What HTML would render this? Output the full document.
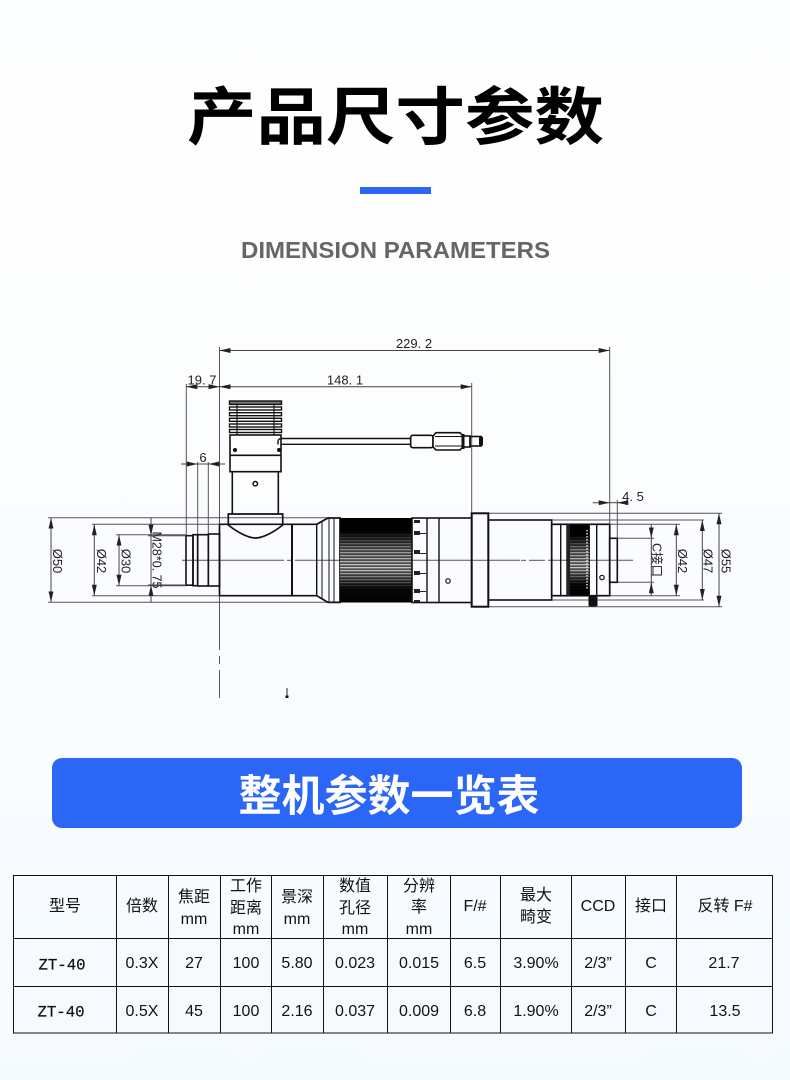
<!DOCTYPE html>
<html><head><meta charset="utf-8"><style>
html,body{margin:0;padding:0;width:790px;height:1080px;overflow:hidden;background:#fff}
svg{display:block}
.cjk{font-family:"Liberation Sans","Noto Sans CJK SC",sans-serif}
.d{font-family:"Liberation Sans","Noto Sans CJK SC",sans-serif;font-size:13px;fill:#222;text-anchor:middle}
.t{font-family:"Liberation Sans","Noto Sans CJK SC",sans-serif;font-size:16px;fill:#111;text-anchor:middle}
.z{font-family:"Liberation Mono",monospace;font-size:15.7px;fill:#111;stroke:#111;stroke-width:.25;text-anchor:middle}
.e line,.e path{stroke:#555;stroke-width:1;fill:none}
.k rect,.k path{stroke:#111;stroke-width:1.6;fill:none}
.k line{stroke:#111;stroke-width:1.4}
.a line{stroke:#444;stroke-width:1}
</style></head><body>
<svg width="790" height="1080" viewBox="0 0 790 1080" xmlns="http://www.w3.org/2000/svg">
<defs>
<linearGradient id="bg" x1="0" y1="0" x2="0" y2="1"><stop offset="0" stop-color="#fdfeff"/><stop offset=".2" stop-color="#fefefe"/><stop offset=".6" stop-color="#f9fcff"/><stop offset="1" stop-color="#f5faff"/></linearGradient>
<pattern id="st" width="10" height="3" patternUnits="userSpaceOnUse" patternTransform="translate(0 518)"><rect width="10" height="3" fill="#222"/><rect y=".7" width="10" height="1.8" fill="#e2e2e2"/></pattern>
<linearGradient id="sh" x1="0" y1="0" x2="0" y2="1"><stop offset="0" stop-color="#000"/><stop offset=".15" stop-color="#000"/><stop offset=".38" stop-color="#000" stop-opacity=".35"/><stop offset=".6" stop-color="#000" stop-opacity=".1"/><stop offset=".84" stop-color="#000" stop-opacity=".95"/><stop offset="1" stop-color="#000"/></linearGradient>
<marker id="ar" viewBox="0 0 11 5" refX="11" refY="2.5" markerWidth="11" markerHeight="5" markerUnits="userSpaceOnUse" orient="auto-start-reverse"><path d="M0 0L11 2.5L0 5Z" fill="#222"/></marker>
</defs>
<rect width="790" height="1080" fill="url(#bg)"/>

<text transform="translate(395.5 139) scale(1 .9)" class="cjk" font-size="69.5" font-weight="700" text-anchor="middle" fill="#000">产品尺寸参数</text>
<rect x="360" y="187" width="71" height="7" fill="#2b66f6"/>
<text x="241" y="258" font-family="Liberation Sans,sans-serif" font-size="23.5" font-weight="700" fill="#666" textLength="309" lengthAdjust="spacingAndGlyphs">DIMENSION PARAMETERS</text>

<g class="e">
<line x1="219.5" y1="347" x2="219.5" y2="650"/><line x1="219.5" y1="656" x2="219.5" y2="664"/><line x1="219.5" y1="670" x2="219.5" y2="698"/>
<line x1="609.7" y1="347" x2="609.7" y2="524"/>
<line x1="471.7" y1="383" x2="471.7" y2="514"/>
<line x1="186.3" y1="384" x2="186.3" y2="536"/>
<line x1="197.7" y1="462" x2="197.7" y2="535"/>
<line x1="208.3" y1="462" x2="208.3" y2="535"/>
<line x1="617.3" y1="500" x2="617.3" y2="538"/>
<line x1="48" y1="517.7" x2="330" y2="517.7"/><line x1="48" y1="602.3" x2="330" y2="602.3"/>
<line x1="92" y1="524.3" x2="220" y2="524.3"/><line x1="92" y1="595.7" x2="220" y2="595.7"/>
<line x1="116" y1="534.7" x2="186" y2="534.7"/><line x1="116" y1="585.7" x2="186" y2="585.7"/>
<line x1="488" y1="513.3" x2="722" y2="513.3"/><line x1="488" y1="606.7" x2="722" y2="606.7"/>
<line x1="551" y1="520" x2="704" y2="520"/><line x1="551" y1="600" x2="704" y2="600"/>
<line x1="609" y1="524.3" x2="680" y2="524.3"/><line x1="609" y1="595.7" x2="680" y2="595.7"/>
<line x1="617" y1="538.3" x2="654" y2="538.3"/><line x1="617" y1="582.3" x2="654" y2="582.3"/>
<line x1="182" y1="560.3" x2="284" y2="560.3"/><line x1="287" y1="560.3" x2="292" y2="560.3"/><line x1="295" y1="560.3" x2="520" y2="560.3"/><line x1="521" y1="560.3" x2="526" y2="560.3"/><line x1="529" y1="560.3" x2="545" y2="560.3"/><line x1="548" y1="560.3" x2="633" y2="560.3"/>
</g>

<!-- lens -->
<g class="k">
<rect x="186" y="535.7" width="7" height="49.5"/>
<rect x="193" y="534.7" width="4.7" height="51"/>
<rect x="197.7" y="534.7" width="10.6" height="51.3"/>
<rect x="208.3" y="534" width="11.2" height="52"/>
<path d="M219.5 524.3H316.7L328 518H340V602.4H328L316.7 595.7H219.5Z" style="stroke-width:1.7"/>
<line x1="292" y1="524.3" x2="292" y2="595.7" style="stroke-width:2"/>
<line x1="316.7" y1="524.3" x2="316.7" y2="595.7"/>
<line x1="322" y1="521" x2="322" y2="599" style="stroke-width:1"/>
<line x1="329" y1="518" x2="329" y2="602" style="stroke-width:1"/>
<line x1="334" y1="518" x2="334" y2="602" style="stroke-width:1"/>
</g>
<rect x="340" y="518" width="72" height="84.5" fill="url(#st)"/>
<rect x="340" y="518" width="72" height="84.5" fill="url(#sh)"/>
<g class="k">
<rect x="412" y="518" width="59.7" height="84.5"/>
<line x1="427" y1="518" x2="427" y2="602.5"/>
<line x1="439" y1="518" x2="439" y2="602.5"/>
<rect x="471.7" y="513.3" width="16.6" height="93.4" style="stroke-width:2"/>
<rect x="488.3" y="520" width="63.4" height="80"/>
<rect x="551.7" y="524.3" width="58" height="71.4" style="stroke-width:1.7"/>
<line x1="560.7" y1="524.3" x2="560.7" y2="595.7"/>
<line x1="567" y1="524.3" x2="567" y2="595.7"/>
<line x1="589.3" y1="524.3" x2="589.3" y2="595.7"/>
<line x1="596.7" y1="524.3" x2="596.7" y2="595.7"/>
<rect x="609.7" y="538.3" width="7.6" height="44"/>
</g>
<g fill="#222">
<rect x="414" y="520" width="6" height="3"/><rect x="414" y="531" width="6" height="4"/><rect x="420" y="533" width="6" height="1"/>
<rect x="414" y="550" width="6" height="4"/><rect x="420" y="553" width="6" height="1"/><rect x="414" y="571" width="6" height="4"/><rect x="420" y="573" width="6" height="1"/>
<rect x="414" y="589" width="6" height="4"/><rect x="420" y="591" width="6" height="1"/><rect x="414" y="600" width="6" height="2"/>
</g>
<circle cx="448" cy="581" r="2.2" fill="#fff" stroke="#111" stroke-width="1.2"/>
<circle cx="602" cy="577.5" r="2.2" fill="#fff" stroke="#111" stroke-width="1.2"/>
<rect x="567" y="524.5" width="22.3" height="71" fill="url(#st)"/>
<rect x="567" y="524.5" width="22.3" height="71" fill="url(#sh)"/>
<rect x="567" y="524.5" width="3" height="71" fill="#222"/>
<line x1="587" y1="530" x2="587" y2="590" stroke="#ddd" stroke-width="1.5" stroke-dasharray="1.5 1.5"/>
<rect x="588.5" y="596" width="9" height="10.5" rx="1.5" fill="#111"/>

<!-- top sensor -->
<g fill="#fff" stroke="#111" stroke-width="1.4">
<rect x="229.5" y="401" width="52" height="3.4" fill="#777"/>
<rect x="229.5" y="407" width="52" height="3"/>
<rect x="229.5" y="412.7" width="52" height="3"/>
<rect x="229.5" y="418.3" width="52" height="3"/>
<rect x="229.5" y="424" width="52" height="3"/>
<rect x="229.5" y="429.5" width="52" height="3"/>
</g>
<g stroke="#111" stroke-width="1.1"><line x1="237" y1="404" x2="237" y2="435"/><line x1="274" y1="404" x2="274" y2="435"/></g>
<g class="k">
<rect x="230" y="435" width="51" height="36.7"/>
<line x1="230" y1="455.3" x2="281" y2="455.3" style="stroke-width:1.7"/>
<path d="M232.3 471.7V514M278.3 471.7V514"/>
<path d="M228.3 514H282.7V525C274 532 263 538 255.5 538C248 538 237 532 228.3 525Z" style="stroke-width:1.7"/>
<line x1="219.5" y1="524.3" x2="228.3" y2="524.3"/>
</g>
<circle cx="235" cy="450" r="2" fill="#111"/><circle cx="279" cy="450" r="2" fill="#111"/>
<circle cx="255.3" cy="483.7" r="2.2" fill="#fff" stroke="#111" stroke-width="1.5"/>
<path d="M281 438.5H411M281 444.3H411" stroke="#111" stroke-width="1.4" fill="none"/>
<path d="M281 438.5a3 3 0 0 0 -3 3v3" stroke="#111" stroke-width="1.4" fill="none"/>
<g class="k">
<rect x="410.7" y="435.3" width="22.3" height="12.4" rx="2"/>
<path d="M433 436L436 432.7H460L463 436V447L460 450H436L433 447Z" style="fill:#fff"/>
<line x1="435" y1="436.5" x2="462" y2="436.5" style="stroke-width:1"/><line x1="435" y1="446" x2="462" y2="446" style="stroke-width:1"/>
<rect x="463" y="436" width="7" height="11"/>
<rect x="470" y="436.5" width="11" height="9.5"/>
</g>
<rect x="461.5" y="434" width="3" height="15" fill="#111"/>
<rect x="479" y="436.5" width="4" height="9.5" rx="1.5" fill="#111"/>
<line x1="287" y1="688" x2="287" y2="696" stroke="#222"/><rect x="285.5" y="695.5" width="3" height="2.5" fill="#111"/>

<!-- dimension lines -->
<g class="a">
<line x1="219.5" y1="350.5" x2="609.7" y2="350.5" marker-start="url(#ar)" marker-end="url(#ar)"/>
<line x1="219.5" y1="386.7" x2="471.7" y2="386.7" marker-start="url(#ar)" marker-end="url(#ar)"/>
<line x1="186.3" y1="386.7" x2="219.5" y2="386.7" marker-start="url(#ar)" marker-end="url(#ar)"/>
<line x1="181" y1="464" x2="197.7" y2="464" marker-end="url(#ar)"/>
<line x1="225" y1="464" x2="208.3" y2="464" marker-end="url(#ar)"/>
<line x1="197.7" y1="464" x2="208.3" y2="464"/>
<line x1="592.7" y1="502.7" x2="609.7" y2="502.7" marker-end="url(#ar)"/>
<line x1="628" y1="502.7" x2="617.3" y2="502.7" marker-end="url(#ar)"/>
<line x1="609.7" y1="502.7" x2="617.3" y2="502.7"/>
<line x1="51" y1="517.7" x2="51" y2="602.3" marker-start="url(#ar)" marker-end="url(#ar)"/>
<line x1="94.3" y1="524.3" x2="94.3" y2="595.7" marker-start="url(#ar)" marker-end="url(#ar)"/>
<line x1="119" y1="534.7" x2="119" y2="585.7" marker-start="url(#ar)" marker-end="url(#ar)"/>
<line x1="151" y1="518" x2="151" y2="535.7" marker-end="url(#ar)"/>
<line x1="151" y1="602" x2="151" y2="585" marker-end="url(#ar)"/>
<line x1="151" y1="535.7" x2="151" y2="585"/>
<line x1="148" y1="535.7" x2="186" y2="535.7"/>
<line x1="148" y1="585" x2="186" y2="585"/>
<line x1="651.3" y1="524.3" x2="651.3" y2="538.3" marker-end="url(#ar)"/>
<line x1="651.3" y1="596" x2="651.3" y2="582.3" marker-end="url(#ar)"/>
<line x1="651.3" y1="538.3" x2="651.3" y2="582.3"/>
<line x1="676.3" y1="524.3" x2="676.3" y2="595.7" marker-start="url(#ar)" marker-end="url(#ar)"/>
<line x1="702.3" y1="520" x2="702.3" y2="600" marker-start="url(#ar)" marker-end="url(#ar)"/>
<line x1="719" y1="513.3" x2="719" y2="606.7" marker-start="url(#ar)" marker-end="url(#ar)"/>
</g>

<g class="d">
<text x="414" y="348">229. 2</text>
<text x="345" y="384.5">148. 1</text>
<text x="202" y="384.5">19. 7</text>
<text x="203" y="462">6</text>
<text x="633" y="501">4. 5</text>
<text transform="translate(53 561) rotate(90)">Ø50</text>
<text transform="translate(97 561) rotate(90)">Ø42</text>
<text transform="translate(121.5 561) rotate(90)">Ø30</text>
<text transform="translate(152.5 560) rotate(90)" font-size="12.5">M28*0. 75</text>
<text transform="translate(652.5 560) rotate(90)" font-size="12.5">C接口</text>
<text transform="translate(678 561) rotate(90)">Ø42</text>
<text transform="translate(703.5 561) rotate(90)">Ø47</text>
<text transform="translate(721.5 561) rotate(90)">Ø55</text>
</g>

<!-- banner -->
<rect x="52" y="758" width="690" height="70" rx="10" fill="#2b66f6"/>
<text x="389" y="811" class="cjk" font-size="43" font-weight="700" text-anchor="middle" fill="#fff">整机参数一览表</text>

<!-- table -->
<g stroke="#111" stroke-width="1" fill="none">
<rect x="13.5" y="875.5" width="759" height="157.5"/>
<path d="M13.5 938.5H772.5M13.5 986.5H772.5M116.5 875.5V1033M168.5 875.5V1033M220.5 875.5V1033M271.5 875.5V1033M323.5 875.5V1033M387.5 875.5V1033M450.5 875.5V1033M500.5 875.5V1033M571.5 875.5V1033M625.5 875.5V1033M676.5 875.5V1033"/>
</g>
<g class="t">
<text x="65" y="911">型号</text>
<text x="142" y="911">倍数</text>
<text x="194" y="902">焦距</text><text x="194" y="924">mm</text>
<text x="246" y="891">工作</text><text x="246" y="913">距离</text><text x="246" y="934">mm</text>
<text x="297" y="902">景深</text><text x="297" y="924">mm</text>
<text x="355" y="891">数值</text><text x="355" y="913">孔径</text><text x="355" y="934">mm</text>
<text x="419" y="891">分辨</text><text x="419" y="912">率</text><text x="419" y="934">mm</text>
<text x="475" y="911">F/#</text>
<text x="536" y="900">最大</text><text x="536" y="922">畸变</text>
<text x="598" y="911">CCD</text>
<text x="651" y="911">接口</text>
<text x="725" y="911">反转 F#</text>

<text x="142" y="968">0.3X</text><text x="194" y="968">27</text><text x="246" y="968">100</text><text x="297" y="968">5.80</text><text x="355" y="968">0.023</text><text x="419" y="968">0.015</text><text x="475" y="968">6.5</text><text x="536" y="968">3.90%</text><text x="598" y="968">2/3”</text><text x="651" y="968">C</text><text x="724" y="968">21.7</text>
<text x="142" y="1016">0.5X</text><text x="194" y="1016">45</text><text x="246" y="1016">100</text><text x="297" y="1016">2.16</text><text x="355" y="1016">0.037</text><text x="419" y="1016">0.009</text><text x="475" y="1016">6.8</text><text x="536" y="1016">1.90%</text><text x="598" y="1016">2/3”</text><text x="651" y="1016">C</text><text x="725" y="1016">13.5</text>
</g>
<text x="62" y="969.5" class="z">ZT-40</text>
<text x="61" y="1016.5" class="z">ZT-40</text>
</svg>
</body></html>
